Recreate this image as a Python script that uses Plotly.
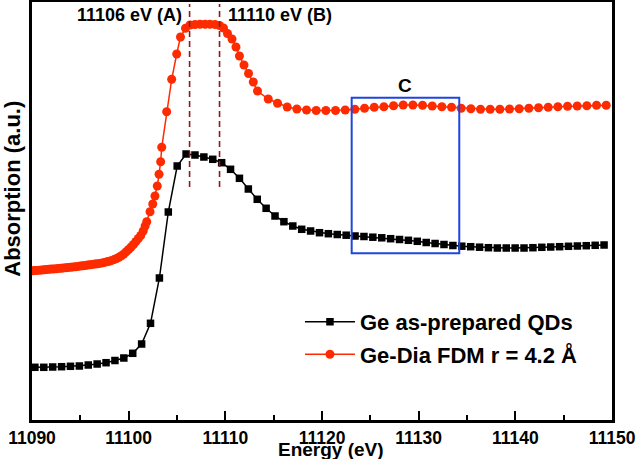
import plotly.graph_objects as go

# ---- data ----
qd_energy = [11090.30, 11091.22, 11092.14, 11093.06, 11093.98, 11094.90, 11095.82, 11096.74,
             11097.66, 11098.58, 11099.50, 11100.42, 11101.34, 11102.26, 11103.18, 11104.10,
             11105.02, 11105.94, 11106.86, 11107.78, 11108.70, 11109.62, 11110.54, 11111.46,
             11112.38, 11113.30, 11114.22, 11115.14, 11116.06, 11116.98, 11117.90, 11118.82,
             11119.74, 11120.66, 11121.58, 11122.50, 11123.42, 11124.34, 11125.26, 11126.18,
             11127.10, 11128.02, 11128.94, 11129.86, 11130.78, 11131.70, 11132.62, 11133.54,
             11134.46, 11135.38, 11136.30, 11137.22, 11138.14, 11139.06, 11139.98, 11140.90,
             11141.82, 11142.74, 11143.66, 11144.58, 11145.50, 11146.42, 11147.34, 11148.26,
             11149.18]
qd_abs = [0.527, 0.527, 0.530, 0.533, 0.537, 0.540, 0.550, 0.560,
          0.573, 0.595, 0.620, 0.667, 0.760, 0.967, 1.420, 2.080,
          2.540, 2.660, 2.650, 2.630, 2.607, 2.573, 2.507, 2.417,
          2.310, 2.207, 2.117, 2.040, 1.983, 1.940, 1.907, 1.890,
          1.873, 1.863, 1.855, 1.848, 1.840, 1.835, 1.828, 1.822,
          1.813, 1.805, 1.797, 1.787, 1.775, 1.765, 1.755, 1.745,
          1.738, 1.733, 1.728, 1.723, 1.720, 1.720, 1.720, 1.720,
          1.723, 1.727, 1.730, 1.733, 1.737, 1.740, 1.743, 1.747,
          1.750]

fdm_energy = [11090.0, 11090.25, 11090.5, 11090.75, 11091.0, 11091.25, 11091.5, 11091.75,
              11092.0, 11092.25, 11092.5, 11092.75, 11093.0, 11093.25, 11093.5, 11093.75,
              11094.0, 11094.25, 11094.5, 11094.75, 11095.0, 11095.25, 11095.5, 11095.75,
              11096.0, 11096.25, 11096.5, 11096.75, 11097.0, 11097.25, 11097.5, 11097.75,
              11098.0, 11098.25, 11098.5, 11098.75, 11099.0, 11099.25, 11099.5, 11099.75,
              11100.0, 11100.25, 11100.5, 11100.75, 11101.0, 11101.25, 11101.5, 11101.7,
              11101.87, 11102.21, 11102.49, 11102.72, 11102.96, 11103.14, 11103.31,
              11103.42, 11103.93, 11104.45, 11104.97, 11105.36, 11105.88, 11106.34, 11106.86,
              11107.38, 11107.90, 11108.41, 11108.93, 11109.40, 11109.81, 11110.22, 11110.69,
              11111.10, 11111.46, 11111.93, 11112.40, 11112.89, 11113.33, 11114.44, 11115.4,
              11116.4, 11117.4, 11118.4, 11119.4, 11120.4, 11121.4, 11122.4, 11123.4,
              11124.4, 11125.4, 11126.4, 11127.4, 11128.4, 11129.4, 11130.4, 11131.4,
              11132.4, 11133.4, 11134.4, 11135.4, 11136.4, 11137.4, 11138.4, 11139.4,
              11140.4, 11141.4, 11142.4, 11143.4, 11144.4, 11145.4, 11146.4, 11147.4,
              11148.4, 11149.4]
fdm_abs = [1.492, 1.494, 1.496, 1.498, 1.500, 1.502, 1.504, 1.507,
           1.509, 1.511, 1.513, 1.516, 1.518, 1.521, 1.523, 1.526,
           1.528, 1.531, 1.533, 1.536, 1.539, 1.542, 1.545, 1.549,
           1.552, 1.556, 1.559, 1.563, 1.566, 1.571, 1.576, 1.582,
           1.588, 1.596, 1.604, 1.615, 1.628, 1.643, 1.660, 1.682,
           1.705, 1.730, 1.755, 1.785, 1.815, 1.845, 1.890, 1.940,
           1.983, 2.083, 2.160, 2.240, 2.340, 2.457, 2.583,
           2.727, 3.083, 3.407, 3.660, 3.830, 3.917, 3.950, 3.955,
           3.957, 3.957, 3.957, 3.955, 3.945, 3.920, 3.865, 3.810,
           3.730, 3.640, 3.550, 3.465, 3.380, 3.290, 3.210, 3.168,
           3.130, 3.110, 3.100, 3.095, 3.095, 3.095, 3.100, 3.107,
           3.117, 3.127, 3.133, 3.142, 3.150, 3.150, 3.147, 3.140,
           3.133, 3.127, 3.118, 3.112, 3.107, 3.107, 3.107, 3.110,
           3.113, 3.117, 3.123, 3.127, 3.133, 3.137, 3.140, 3.143,
           3.147, 3.148]

series_names = ["Ge as-prepared QDs", "Ge-Dia FDM r = 4.2 Å"]
feature_energy = [11106.3, 11109.4]
feature_labels = ["11106 eV (A)", "11110 eV (B)"]
region_c = [11123.07, 11134.2, 1.667, 3.223]
x_ticks = [11090, 11100, 11110, 11120, 11130, 11140, 11150]

FONT = "Liberation Sans, Arial, sans-serif"

fig = go.Figure()
fig.add_trace(go.Scatter(
    x=qd_energy, y=qd_abs, mode="lines+markers", name=series_names[0],
    line=dict(color="#000000", width=1.5),
    marker=dict(symbol="square", size=7.5, color="#000000"),
    legendgroup="a"))
fig.add_trace(go.Scatter(
    x=fdm_energy, y=fdm_abs, mode="lines+markers", name=series_names[1],
    line=dict(color="#FF2B00", width=1.5),
    marker=dict(symbol="circle", size=9, color="#FF2B00"),
    legendgroup="b"))

for e in feature_energy:
    fig.add_shape(type="line", x0=e, x1=e, y0=2.33, y1=4.16, xref="x", yref="y",
                  line=dict(color="#8B1A1A", width=1.6, dash="6px,4px"))

fig.add_shape(type="rect", x0=region_c[0], x1=region_c[1], y0=region_c[2], y1=region_c[3],
              xref="x", yref="y", line=dict(color="#1F45E0", width=2))

fig.add_annotation(x=feature_energy[0], y=4.05, text=feature_labels[0], xanchor="right",
                   xshift=-6, showarrow=False,
                   font=dict(family=FONT, size=18, color="black", weight="bold"))
fig.add_annotation(x=feature_energy[1], y=4.05, text=feature_labels[1], xanchor="left",
                   xshift=6, showarrow=False,
                   font=dict(family=FONT, size=18, color="black", weight="bold"))
fig.add_annotation(x=(region_c[0] + region_c[1]) / 2, y=region_c[3], text="C",
                   yanchor="bottom", yshift=0, showarrow=False,
                   font=dict(family=FONT, size=19, color="black", weight="bold"))
# axis titles (placed as in the reference)
fig.add_annotation(x=-0.033, y=0.553, xref="paper", yref="paper", text="Absorption (a.u.)",
                   textangle=-90, showarrow=False, xanchor="center", yanchor="middle",
                   font=dict(family=FONT, size=22, color="black", weight="bold"))
fig.add_annotation(x=0.515, y=-0.0933, xref="paper", yref="paper", text="Energy (eV)",
                   showarrow=False, xanchor="center", yanchor="bottom", yshift=-2,
                   borderpad=0,
                   font=dict(family=FONT, size=19, color="black", weight="bold"))

fig.update_layout(
    width=640, height=459,
    margin=dict(l=32, r=28, t=2, b=39),
    plot_bgcolor="white", paper_bgcolor="white",
    font=dict(family=FONT, color="black", weight="bold"),
    showlegend=True,
    legend=dict(x=0.462, y=0.285, xanchor="left", yanchor="top",
                bgcolor="rgba(0,0,0,0)", font=dict(family=FONT, size=22, weight="bold"),
                itemwidth=50, traceorder="grouped", tracegroupgap=1),
    xaxis=dict(range=[11090, 11150], tickvals=x_ticks, tickformat="d", ticks="inside",
               ticklen=9, tickwidth=2, tickcolor="black", showline=True, linewidth=2.5,
               linecolor="black", mirror=True, showgrid=False, zeroline=False,
               minor=dict(dtick=5, ticks="inside", ticklen=5, tickwidth=2, tickcolor="black"),
               tickfont=dict(family=FONT, size=17.5, weight="bold"),
               automargin=False),
    yaxis=dict(range=[0, 4.18], showticklabels=False, ticks="", showline=True,
               linewidth=2.5, linecolor="black", mirror=True, showgrid=False,
               zeroline=False, automargin=False),
)

fig.write_html("out.html", config={"displayModeBar": False},
               post_script="document.body.style.margin='0px';document.body.style.padding='0px';")
